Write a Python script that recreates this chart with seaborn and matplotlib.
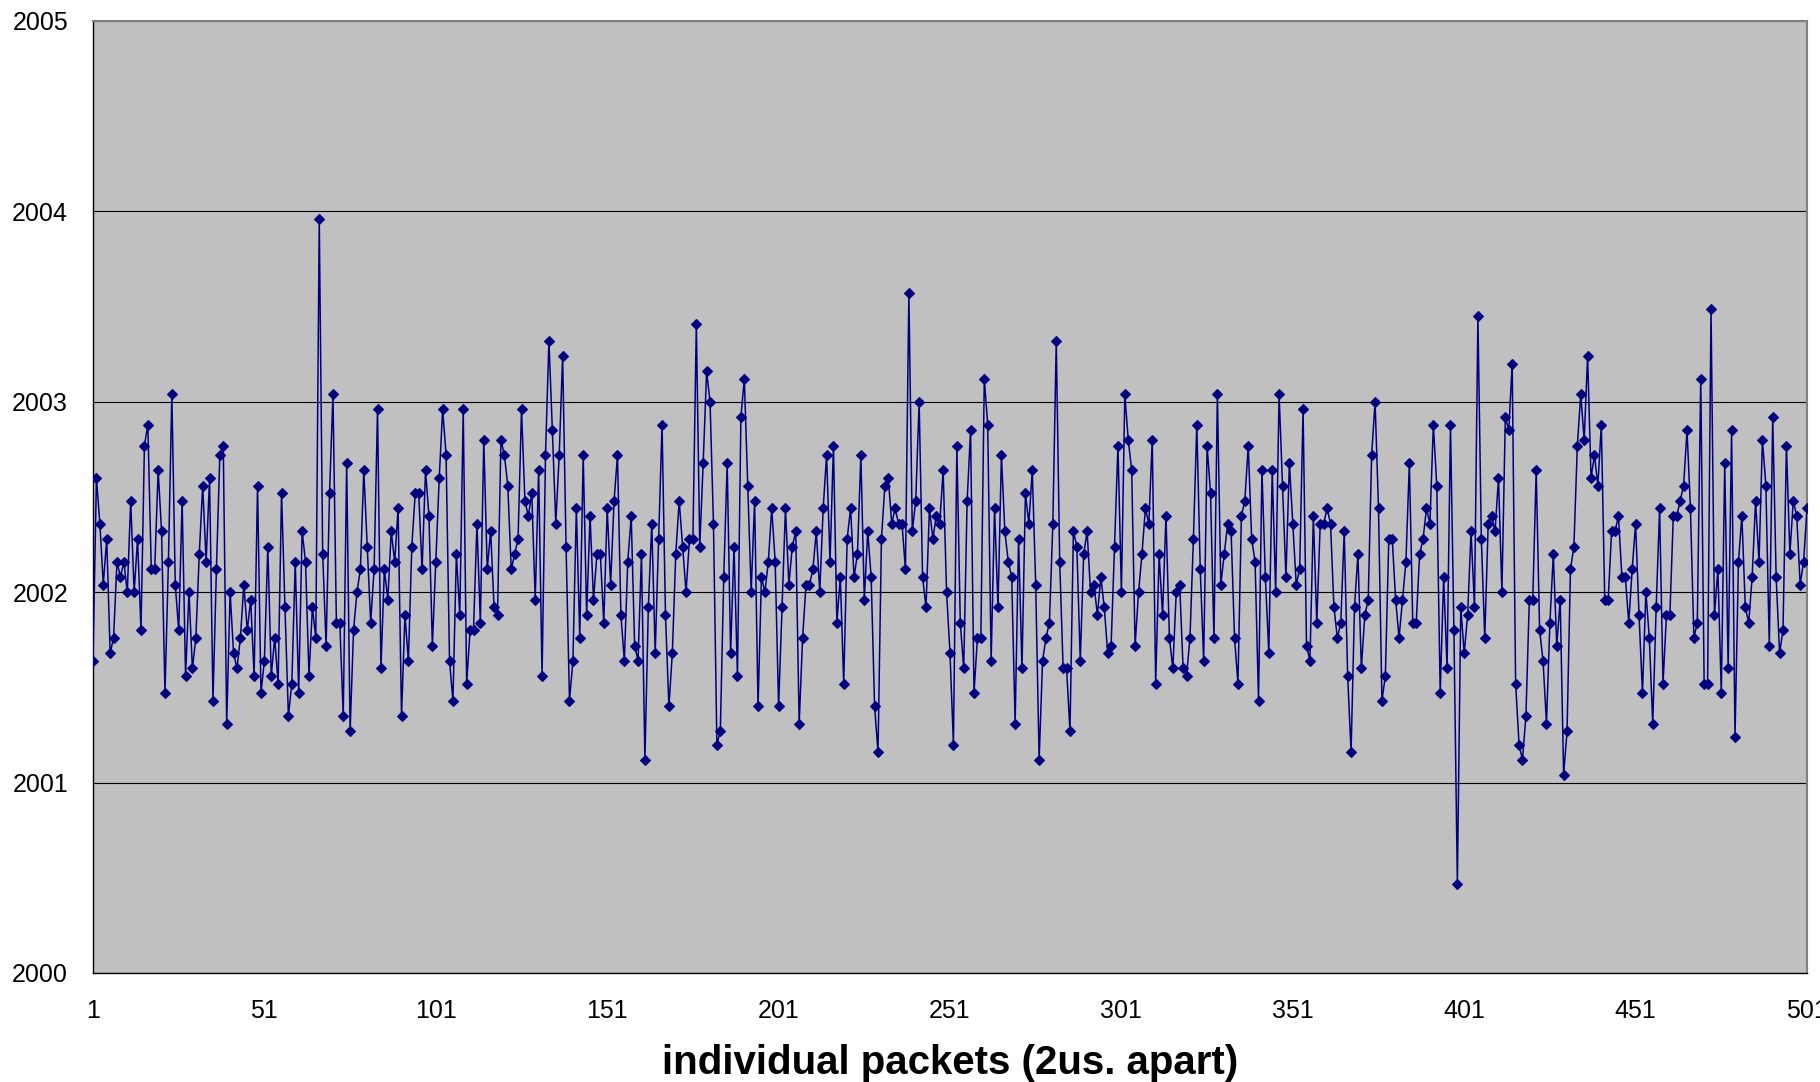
import numpy as np
import pandas as pd
import matplotlib
matplotlib.use("Agg")
import matplotlib.pyplot as plt
import seaborn as sns

# ---- data ----
seg_001_050 = [2001.64, 2002.60, 2002.36, 2002.04, 2002.28, 2001.68, 2001.76, 2002.16, 2002.08, 2002.16,
               2002.00, 2002.48, 2002.00, 2002.28, 2001.80, 2002.77, 2002.88, 2002.12, 2002.12, 2002.64,
               2002.32, 2001.47, 2002.16, 2003.04, 2002.04, 2001.80, 2002.48, 2001.56, 2002.00, 2001.60,
               2001.76, 2002.20, 2002.56, 2002.16, 2002.60, 2001.43, 2002.12, 2002.72, 2002.77, 2001.31,
               2002.00, 2001.68, 2001.60, 2001.76, 2002.04, 2001.80, 2001.96, 2001.56, 2002.56, 2001.47]
seg_051_100 = [2001.64, 2002.24, 2001.56, 2001.76, 2001.52, 2002.52, 2001.92, 2001.35, 2001.52, 2002.16,
               2001.47, 2002.32, 2002.16, 2001.56, 2001.92, 2001.76, 2003.96, 2002.20, 2001.72, 2002.52,
               2003.04, 2001.84, 2001.84, 2001.35, 2002.68, 2001.27, 2001.80, 2002.00, 2002.12, 2002.64,
               2002.24, 2001.84, 2002.12, 2002.96, 2001.60, 2002.12, 2001.96, 2002.32, 2002.16, 2002.44,
               2001.35, 2001.88, 2001.64, 2002.24, 2002.52, 2002.52, 2002.12, 2002.64, 2002.40, 2001.72]
seg_101_150 = [2002.16, 2002.60, 2002.96, 2002.72, 2001.64, 2001.43, 2002.20, 2001.88, 2002.96, 2001.52,
               2001.80, 2001.80, 2002.36, 2001.84, 2002.80, 2002.12, 2002.32, 2001.92, 2001.88, 2002.80,
               2002.72, 2002.56, 2002.12, 2002.20, 2002.28, 2002.96, 2002.48, 2002.40, 2002.52, 2001.96,
               2002.64, 2001.56, 2002.72, 2003.32, 2002.85, 2002.36, 2002.72, 2003.24, 2002.24, 2001.43,
               2001.64, 2002.44, 2001.76, 2002.72, 2001.88, 2002.40, 2001.96, 2002.20, 2002.20, 2001.84]
seg_151_200 = [2002.44, 2002.04, 2002.48, 2002.72, 2001.88, 2001.64, 2002.16, 2002.40, 2001.72, 2001.64,
               2002.20, 2001.12, 2001.92, 2002.36, 2001.68, 2002.28, 2002.88, 2001.88, 2001.40, 2001.68,
               2002.20, 2002.48, 2002.24, 2002.00, 2002.28, 2002.28, 2003.41, 2002.24, 2002.68, 2003.16,
               2003.00, 2002.36, 2001.20, 2001.27, 2002.08, 2002.68, 2001.68, 2002.24, 2001.56, 2002.92,
               2003.12, 2002.56, 2002.00, 2002.48, 2001.40, 2002.08, 2002.00, 2002.16, 2002.44, 2002.16]
seg_201_250 = [2001.40, 2001.92, 2002.44, 2002.04, 2002.24, 2002.32, 2001.31, 2001.76, 2002.04, 2002.04,
               2002.12, 2002.32, 2002.00, 2002.44, 2002.72, 2002.16, 2002.77, 2001.84, 2002.08, 2001.52,
               2002.28, 2002.44, 2002.08, 2002.20, 2002.72, 2001.96, 2002.32, 2002.08, 2001.40, 2001.16,
               2002.28, 2002.56, 2002.60, 2002.36, 2002.44, 2002.36, 2002.36, 2002.12, 2003.57, 2002.32,
               2002.48, 2003.00, 2002.08, 2001.92, 2002.44, 2002.28, 2002.40, 2002.36, 2002.64, 2002.00]
seg_251_300 = [2001.68, 2001.20, 2002.77, 2001.84, 2001.60, 2002.48, 2002.85, 2001.47, 2001.76, 2001.76,
               2003.12, 2002.88, 2001.64, 2002.44, 2001.92, 2002.72, 2002.32, 2002.16, 2002.08, 2001.31,
               2002.28, 2001.60, 2002.52, 2002.36, 2002.64, 2002.04, 2001.12, 2001.64, 2001.76, 2001.84,
               2002.36, 2003.32, 2002.16, 2001.60, 2001.60, 2001.27, 2002.32, 2002.24, 2001.64, 2002.20,
               2002.32, 2002.00, 2002.04, 2001.88, 2002.08, 2001.92, 2001.68, 2001.72, 2002.24, 2002.77]
seg_301_350 = [2002.00, 2003.04, 2002.80, 2002.64, 2001.72, 2002.00, 2002.20, 2002.44, 2002.36, 2002.80,
               2001.52, 2002.20, 2001.88, 2002.40, 2001.76, 2001.60, 2002.00, 2002.04, 2001.60, 2001.56,
               2001.76, 2002.28, 2002.88, 2002.12, 2001.64, 2002.77, 2002.52, 2001.76, 2003.04, 2002.04,
               2002.20, 2002.36, 2002.32, 2001.76, 2001.52, 2002.40, 2002.48, 2002.77, 2002.28, 2002.16,
               2001.43, 2002.64, 2002.08, 2001.68, 2002.64, 2002.00, 2003.04, 2002.56, 2002.08, 2002.68]
seg_351_400 = [2002.36, 2002.04, 2002.12, 2002.96, 2001.72, 2001.64, 2002.40, 2001.84, 2002.36, 2002.36,
               2002.44, 2002.36, 2001.92, 2001.76, 2001.84, 2002.32, 2001.56, 2001.16, 2001.92, 2002.20,
               2001.60, 2001.88, 2001.96, 2002.72, 2003.00, 2002.44, 2001.43, 2001.56, 2002.28, 2002.28,
               2001.96, 2001.76, 2001.96, 2002.16, 2002.68, 2001.84, 2001.84, 2002.20, 2002.28, 2002.44,
               2002.36, 2002.88, 2002.56, 2001.47, 2002.08, 2001.60, 2002.88, 2001.80, 2000.47, 2001.92]
seg_401_450 = [2001.68, 2001.88, 2002.32, 2001.92, 2003.45, 2002.28, 2001.76, 2002.36, 2002.40, 2002.32,
               2002.60, 2002.00, 2002.92, 2002.85, 2003.20, 2001.52, 2001.20, 2001.12, 2001.35, 2001.96,
               2001.96, 2002.64, 2001.80, 2001.64, 2001.31, 2001.84, 2002.20, 2001.72, 2001.96, 2001.04,
               2001.27, 2002.12, 2002.24, 2002.77, 2003.04, 2002.80, 2003.24, 2002.60, 2002.72, 2002.56,
               2002.88, 2001.96, 2001.96, 2002.32, 2002.32, 2002.40, 2002.08, 2002.08, 2001.84, 2002.12]
seg_451_501 = [2002.36, 2001.88, 2001.47, 2002.00, 2001.76, 2001.31, 2001.92, 2002.44, 2001.52, 2001.88,
               2001.88, 2002.40, 2002.40, 2002.48, 2002.56, 2002.85, 2002.44, 2001.76, 2001.84, 2003.12,
               2001.52, 2001.52, 2003.49, 2001.88, 2002.12, 2001.47, 2002.68, 2001.60, 2002.85, 2001.24,
               2002.16, 2002.40, 2001.92, 2001.84, 2002.08, 2002.48, 2002.16, 2002.80, 2002.56, 2001.72,
               2002.92, 2002.08, 2001.68, 2001.80, 2002.77, 2002.20, 2002.48, 2002.40, 2002.04, 2002.16,
               2002.44]

x_ticks = [1, 51, 101, 151, 201, 251, 301, 351, 401, 451, 501]
y_ticks = [2000, 2001, 2002, 2003, 2004, 2005]
x_label = "individual packets (2us. apart)"

values = (seg_001_050 + seg_051_100 + seg_101_150 + seg_151_200 + seg_201_250 +
          seg_251_300 + seg_301_350 + seg_351_400 + seg_401_450 + seg_451_501)
df = pd.DataFrame({"packet": np.arange(1, len(values) + 1), "value": values})

# ---- style ----
sns.set_theme(style="white")
plt.rcParams["font.family"] = ["Liberation Sans", "DejaVu Sans"]

W, H = 1820, 1082
fig = plt.figure(figsize=(W / 100, H / 100), dpi=100)
fig.patch.set_facecolor("white")
left, right, top, bottom = 93, 1807, 21, 973
ax = fig.add_axes([left / W, 1 - bottom / H, (right - left) / W, (bottom - top) / H])
ax.set_facecolor("#C0C0C0")

sns.lineplot(data=df, x="packet", y="value", ax=ax, color="#000080",
             linewidth=1.1, marker="D", markersize=5.3, markeredgewidth=0.8,
             markeredgecolor="#000080", markerfacecolor="#000080", zorder=3)

ax.set_xlim(1, 501)
ax.set_ylim(2000, 2005)
ax.set_xticks(x_ticks)
ax.set_xticklabels([str(t) for t in x_ticks])
ax.set_yticks(y_ticks)
ax.set_yticklabels([str(t) for t in y_ticks])
ax.yaxis.grid(True, color="black", linewidth=0.8)
ax.xaxis.grid(False)
ax.set_axisbelow(True)

for side in ["left", "bottom"]:
    ax.spines[side].set_color("black")
    ax.spines[side].set_linewidth(1.0)
for side in ["top", "right"]:
    ax.spines[side].set_color("#808080")
    ax.spines[side].set_linewidth(1.5)

ax.tick_params(axis="both", which="major", labelsize=18, colors="black",
               labelcolor="black", length=5, width=1.0, direction="out")
ax.tick_params(axis="y", pad=13)
ax.tick_params(axis="x", pad=14)

ax.set_xlabel(x_label, fontsize=29, fontweight="bold", labelpad=15, color="black")
ax.set_ylabel("")

fig.savefig("out.png", dpi=100, facecolor="white")
